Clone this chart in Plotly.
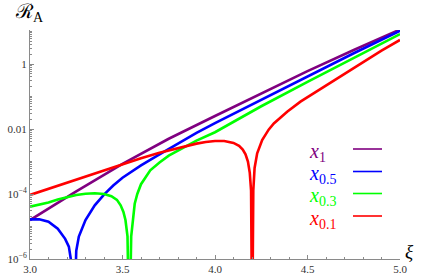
import plotly.graph_objects as go

# ---- data (xi values and R_A values) ----
xi_x1 = [3.0, 3.25, 3.5, 3.75, 4.0, 4.25, 4.5, 4.75, 5.0]
R_x1 = [1.58e-5, 1.20e-4, 8.51e-4, 5.01e-3, 2.51e-2, 0.126, 0.603, 2.69, 11.5]

xi_x05 = [3.0, 3.05, 3.1, 3.15, 3.19, 3.21, 3.222, 3.236, 3.25, 3.264, 3.3, 3.35,
          3.4, 3.45, 3.5, 3.55, 3.6, 3.7, 3.8, 3.9, 4.0, 4.25, 4.5, 4.75, 5.0]
R_x05 = [1.66e-5, 1.66e-5, 1.41e-5, 8.5e-6, 4.17e-6, 2.40e-6, 8.9e-7, 3e-9, 1.78e-6, 4.9e-6,
         1.58e-5, 4.47e-5, 9.55e-5, 1.82e-4, 3.16e-4, 5.01e-4, 7.59e-4, 1.66e-3, 3.55e-3,
         7.59e-3, 0.0151, 0.0794, 0.417, 2.14, 10.5]

xi_x03 = [3.0, 3.05, 3.1, 3.15, 3.2, 3.25, 3.3, 3.35, 3.4, 3.44, 3.47, 3.49, 3.505, 3.516,
          3.527, 3.537, 3.547, 3.556, 3.566, 3.58, 3.6, 3.65, 3.7, 3.75, 3.8, 3.9, 4.0,
          4.25, 4.5, 4.75, 5.0]
R_x03 = [4.07e-5, 4.68e-5, 5.50e-5, 6.76e-5, 8.13e-5, 9.33e-5, 1.02e-4, 1.05e-4, 1.0e-4,
         8.51e-5, 6.61e-5, 4.47e-5, 2.82e-5, 1.58e-5, 5.01e-6, 3e-9, 5.01e-6, 2.0e-5,
         5.01e-5, 1.0e-4, 2.0e-4, 5.37e-4, 9.33e-4, 1.51e-3, 2.19e-3, 4.37e-3, 7.94e-3,
         0.0501, 0.282, 1.51, 8.32]

xi_x01 = [3.0, 3.25, 3.5, 3.6, 3.7, 3.8, 3.9, 3.95, 4.0, 4.05, 4.1, 4.13, 4.15, 4.165,
          4.178, 4.188, 4.195, 4.201, 4.207, 4.214, 4.228, 4.255, 4.29, 4.318, 4.39,
          4.462, 4.6, 4.7, 4.8, 4.9, 5.0]
R_x01 = [9.33e-5, 2.82e-4, 8.32e-4, 1.26e-3, 1.86e-3, 2.63e-3, 3.55e-3, 3.98e-3, 4.27e-3,
         4.27e-3, 3.72e-3, 3.02e-3, 2.34e-3, 1.66e-3, 1.0e-3, 4.47e-4, 1.26e-4, 3e-9,
         1.26e-4, 6.31e-4, 1.78e-3, 4.57e-3, 9.55e-3, 0.0148, 0.0339, 0.0692, 0.219,
         0.501, 1.15, 2.57, 5.50]

series_names = ["1", "0.5", "0.3", "0.1"]
series_colors = ["#800080", "#0000ff", "#00ff00", "#ff0000"]

x_tickvals = [3.0, 3.5, 4.0, 4.5, 5.0]
x_ticktext = ["3.0", "3.5", "4.0", "4.5", "5.0"]
y_tickvals = [1e-6, 1e-4, 1e-2, 1]
y_ticktext = ["10<sup>−6</sup>", "10<sup>−4</sup>", "0.01", "1"]

fig = go.Figure()
for xs, ys, col in zip([xi_x1, xi_x05, xi_x03, xi_x01],
                       [R_x1, R_x05, R_x03, R_x01], series_colors):
    fig.add_trace(go.Scatter(x=xs, y=ys, mode="lines",
                             line=dict(color=col, width=2.6),
                             showlegend=False, hoverinfo="skip"))

axcol = "#8a8a8a"
tickfont = dict(family="Liberation Serif, Times New Roman, serif", size=11, color="#333333")

L, R, T, B = 30, 21, 30, 17
fig.update_layout(
    width=421, height=276,
    margin=dict(l=L, r=R, t=T, b=B, autoexpand=False),
    paper_bgcolor="white", plot_bgcolor="white",
    showlegend=False,
)
fig.update_xaxes(
    automargin=False,
    range=[3, 5], showgrid=False, zeroline=False,
    showline=True, linecolor=axcol, linewidth=1,
    tickmode="array", tickvals=x_tickvals, ticktext=x_ticktext,
    ticks="inside", ticklen=4, tickcolor=axcol, tickwidth=1,
    tickfont=tickfont,
    minor=dict(ticks="inside", ticklen=2.5, tickcolor=axcol, dtick=0.1, showgrid=False),
)
fig.update_yaxes(
    automargin=False,
    type="log", range=[-6, 1.046], showgrid=False, zeroline=False,
    showline=True, linecolor=axcol, linewidth=1,
    tickmode="array", tickvals=y_tickvals, ticktext=y_ticktext,
    ticks="inside", ticklen=4, tickcolor=axcol, tickwidth=1,
    tickfont=tickfont,
    minor=dict(ticks="inside", ticklen=2, tickcolor=axcol, dtick="D1", showgrid=False),
)

PW = 421 - L - R
PH = 276 - T - B


def px(xp):
    return (xp - L) / PW


def py(yp):
    return (276 - B - yp) / PH


# axis labels
fig.add_annotation(xref="paper", yref="paper", x=px(13), y=py(13),
                   xanchor="left", yanchor="middle", showarrow=False,
                   text="ℛ<sub>A</sub>",
                   font=dict(family="Liberation Serif", size=20, color="black"))
fig.add_annotation(xref="paper", yref="paper", x=px(403), y=py(251),
                   xanchor="left", yanchor="middle", showarrow=False,
                   text="<i>ξ</i>",
                   font=dict(family="Liberation Serif", size=19, color="black"))

# legend (text followed by a line sample)
row_px = [149, 171.5, 193.5, 216]
for name, col, ypx in zip(series_names, series_colors, row_px):
    fig.add_annotation(xref="paper", yref="paper", x=px(307), y=py(ypx + 3),
                       xanchor="left", yanchor="middle", showarrow=False,
                       text=f"<i>x</i><sub>{name}</sub>",
                       font=dict(family="Liberation Serif", size=20, color=col))
    fig.add_shape(type="line", xref="paper", yref="paper",
                  x0=px(353), x1=px(382), y0=py(ypx), y1=py(ypx),
                  line=dict(color=col, width=1.6))

fig.write_html("out.html", config={"displayModeBar": False},
               post_script="document.body.style.margin='0';document.body.style.overflow='hidden';")
